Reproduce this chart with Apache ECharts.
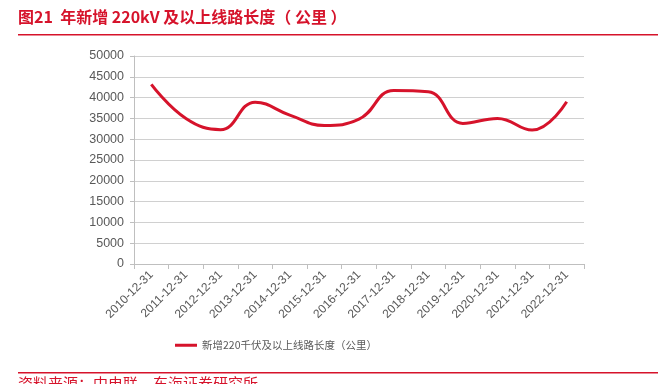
<!DOCTYPE html>
<html><head><meta charset="utf-8">
<script src="https://cdn.jsdelivr.net/npm/echarts@6/dist/echarts.min.js"></script>
<style>html,body{margin:0;padding:0;background:#fff}#c{width:658px;height:384px}</style>
</head><body><div id="c"></div>
<script>
const categories = ['2010-12-31','2011-12-31','2012-12-31','2013-12-31','2014-12-31','2015-12-31','2016-12-31','2017-12-31','2018-12-31','2019-12-31','2020-12-31','2021-12-31','2022-12-31'];
const lengthKm = [43200, 35000, 32300, 38900, 35800, 33300, 34800, 41700, 41400, 33800, 35000, 32200, 39000];
const seriesName = '新增220千伏及以上线路长度（公里）';
const titleText = '图21  年新增 220kV 及以上线路长度（ 公里 ）';
const sourceText = '资料来源：中电联，东海证券研究所';

const RED = '#d6132b';
const chart = echarts.init(document.getElementById('c'), null, {renderer:'canvas'});
chart.setOption({
  animation:false,
  backgroundColor:'#fff',
  textStyle:{fontFamily:'Liberation Sans, Arial, "Noto Sans CJK SC", sans-serif'},
  grid:{left:134, right:74, top:56, bottom:120, containLabel:false},
  xAxis:{
    type:'category', data:categories, boundaryGap:true,
    axisLine:{lineStyle:{color:'#bfbfbf', width:1}},
    axisTick:{show:true, length:5, lineStyle:{color:'#bfbfbf'}},
    axisLabel:{rotate:45, margin:9, color:'#595959', fontSize:12, interval:0}
  },
  yAxis:{
    type:'value', min:0, max:50000, interval:5000,
    axisLine:{show:true, lineStyle:{color:'#bfbfbf'}},
    axisTick:{show:true, length:4, lineStyle:{color:'#bfbfbf'}},
    axisLabel:{color:'#595959', fontSize:12.5, margin:10, formatter:(v)=>String(v)},
    splitLine:{lineStyle:{color:'#d0d0d0'}}
  },
  legend:{
    left:175, top:340, padding:0, icon:'rect', itemWidth:22, itemHeight:3,
    textStyle:{color:'#595959', fontSize:10.5, fontFamily:'"Noto Sans CJK SC", sans-serif'},
    data:[seriesName]
  },
  series:[{
    name:seriesName, type:'line', data:lengthKm, smooth:0.45,
    showSymbol:false, symbol:'none',
    lineStyle:{color:RED, width:3}, itemStyle:{color:RED}
  }],
  graphic:[
    {type:'text', left:18, top:9, style:{text:titleText, fill:RED, font:'bold 16px "Noto Sans CJK SC", sans-serif'}},
    {type:'rect', shape:{x:18, y:34, width:640, height:1.5}, style:{fill:RED}},
    {type:'rect', shape:{x:18, y:372, width:640, height:1.5}, style:{fill:RED}},
    {type:'text', left:18, top:376, style:{text:sourceText, fill:RED, font:'15px "Noto Sans CJK SC", sans-serif'}}
  ]
});
</script></body></html>
